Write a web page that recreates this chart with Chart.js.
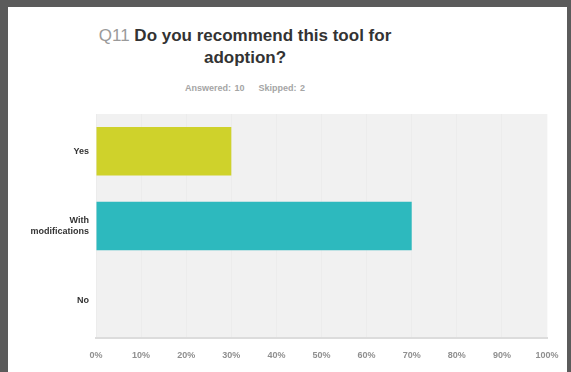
<!DOCTYPE html>
<html>
<head>
<meta charset="utf-8">
<script src="https://cdn.jsdelivr.net/npm/chart.js@4"></script>
<style>
  html, body { margin: 0; padding: 0; }
  body { width: 571px; height: 372px; background: #5b5b5b; position: relative; overflow: hidden; font-family: "Liberation Sans", Arial, sans-serif; }
  #sheet { position: absolute; left: 8px; top: 7px; width: 559px; height: 372px; background: #fff; }
  #title { position: absolute; left: 93px; width: 304px; top: 25px; text-align: center; font-weight: bold; font-size: 17px; line-height: 22px; color: #333; }
  #title .q { color: #9a9a9a; font-weight: normal; }
  #sub { position: absolute; left: 145px; width: 200px; top: 83px; text-align: center; font-weight: bold; font-size: 9px; color: #a5a5a5; word-spacing: 1px; }
  #wrap { position: absolute; left: 0; top: 0; width: 571px; height: 372px; }
</style>
</head>
<body>
<div id="sheet"></div>
<div id="title"><span class="q">Q11</span> Do you recommend this tool for adoption?</div>
<div id="sub">Answered: 10 &nbsp;&nbsp; Skipped: 2</div>
<div id="wrap"><canvas id="chart" width="571" height="372"></canvas></div>
<script>
var categories = ['Yes', ['With', 'modifications'], 'No'];
var percents = [30, 70, 0];
var barColors = ['#cfd22b', '#2db9be', '#9a9a9a'];
var xTicks = [0, 10, 20, 30, 40, 50, 60, 70, 80, 90, 100];

var plotBg = {
    id: 'plotBg',
    beforeDraw: function(chart) {
        var a = chart.chartArea, ctx = chart.ctx;
        ctx.save();
        ctx.fillStyle = '#f1f1f1';
        ctx.fillRect(a.left, a.top, a.right - a.left, a.bottom - a.top);
        ctx.restore();
    }
};

new Chart(document.getElementById('chart').getContext('2d'), {
    type: 'bar',
    data: {
        labels: categories,
        datasets: [{
            data: percents,
            backgroundColor: barColors,
            borderWidth: 0,
            barPercentage: 0.65,
            categoryPercentage: 1
        }]
    },
    options: {
        indexAxis: 'y',
        responsive: false,
        animation: false,
        layout: { padding: { top: 114, right: 24, left: 0, bottom: 0 } },
        plugins: { legend: { display: false }, tooltip: { enabled: false } },
        scales: {
            x: {
                min: 0, max: 100,
                afterBuildTicks: function(scale) {
                    scale.ticks = xTicks.map(function(v) { return { value: v }; });
                },
                afterFit: function(scale) { scale.height = 34; },
                ticks: {
                    callback: function(v) { return v + '%'; },
                    color: '#8f8f8f',
                    font: { family: 'Liberation Sans', size: 9, weight: 'bold' },
                    padding: 12,
                    maxRotation: 0,
                    autoSkip: false
                },
                grid: { color: 'rgba(0,0,0,0.02)', drawTicks: false },
                border: { color: '#dcdcdc', width: 2 }
            },
            y: {
                afterFit: function(scale) { scale.width = 96; },
                ticks: {
                    color: '#333',
                    font: { family: 'Liberation Sans', size: 9, weight: 'bold' },
                    padding: 7
                },
                grid: { display: false, drawTicks: false },
                border: { display: false }
            }
        }
    },
    plugins: [plotBg]
});
</script>
</body>
</html>
